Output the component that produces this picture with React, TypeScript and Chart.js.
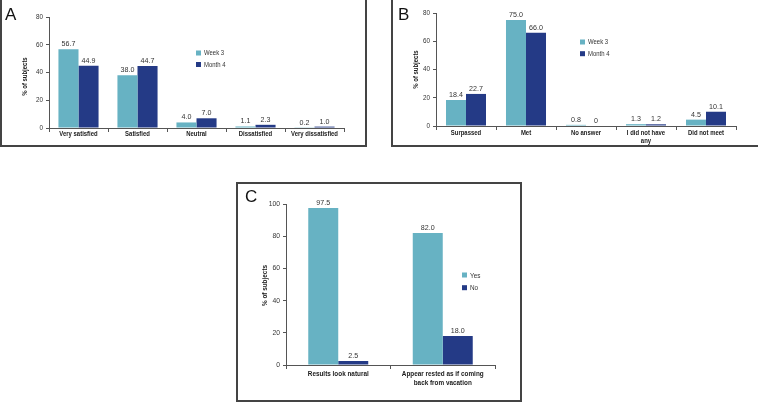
import React, { useEffect, useRef } from "react";
import { Chart, registerables } from "chart.js";

Chart.register(...registerables);

// ---------- data ----------
const satisfactionCategories = ["Very satisfied", "Satisfied", "Neutral", "Dissatisfied", "Very dissatisfied"];
const satisfactionWeek3 = [56.7, 38.0, 4.0, 1.1, 0.2];
const satisfactionMonth4 = [44.9, 44.7, 7.0, 2.3, 1.0];

const expectationCategories = ["Surpassed", "Met", "No answer", ["I did not have", "any"], "Did not meet"];
const expectationWeek3 = [18.4, 75.0, 0.8, 1.3, 4.5];
const expectationMonth4 = [22.7, 66.0, 0, 1.2, 10.1];

const outcomeCategories = ["Results look natural", ["Appear rested as if coming", "back from vacation"]];
const outcomeYes = [97.5, 82.0];
const outcomeNo = [2.5, 18.0];

const yTicks80 = [0, 20, 40, 60, 80];
const yTicks100 = [0, 20, 40, 60, 80, 100];
const yTitle = "% of subjects";

// ---------- styles ----------
const TEAL = "#67b2c3";
const NAVY = "#243a86";
const AXIS = "#555555";
const FONT = '"Liberation Sans", Arial, Helvetica, sans-serif';
const NARROW_SCALE = 0.85;

type PanelProps = {
  letter: string;
  box: { left: number; top: number; width: number; height: number };
  canvas: { left: number; top: number; width: number; height: number };
  letterPos: { left: number; top: number };
  categories: (string | string[])[];
  series: { label: string; data: number[]; color: string }[];
  yTicks: number[];
  padding: { left: number; right: number; top: number; bottom: number };
  yWidth: number;
  xHeight: number;
  catPct: number;
  fs: number;
  xLabelGap: number;
  xLineH: number;
  titleX: number;
  titleDy: number;
  legend: { x: number; y: number; gap: number; size: number };
};

function fmt(v: number) {
  return v === 0 ? "0" : v.toFixed(1);
}

function drawText(
  ctx: CanvasRenderingContext2D,
  text: string,
  x: number,
  y: number,
  sx: number,
  align: CanvasTextAlign,
  baseline: CanvasTextBaseline,
  rotate = 0
) {
  ctx.save();
  ctx.translate(x, y);
  if (rotate) ctx.rotate(rotate);
  ctx.scale(sx, 1);
  ctx.textAlign = align;
  ctx.textBaseline = baseline;
  ctx.fillText(text, 0, 0);
  ctx.restore();
}

function Panel(p: PanelProps) {
  const ref = useRef<HTMLCanvasElement | null>(null);
  useEffect(() => {
    if (!ref.current) return;
    const textPlugin = {
      id: "panelText",
      afterDraw(chart: any) {
        const ctx: CanvasRenderingContext2D = chart.ctx;
        const xs = chart.scales.x;
        const ys = chart.scales.y;
        const area = chart.chartArea;
        ctx.save();
        // value labels
        ctx.font = `7.5px ${FONT}`;
        ctx.fillStyle = "#333333";
        chart.data.datasets.forEach((ds: any, i: number) => {
          const meta = chart.getDatasetMeta(i);
          meta.data.forEach((bar: any, j: number) => {
            drawText(ctx, fmt(ds.data[j]), bar.x, bar.y - 3, 0.95, "center", "alphabetic");
          });
        });
        // x category labels
        ctx.font = `bold ${p.fs}px ${FONT}`;
        ctx.fillStyle = "#1a1a1a";
        p.categories.forEach((c, i) => {
          const lines = Array.isArray(c) ? c : [c];
          const x = xs.getPixelForTick(i);
          lines.forEach((ln, k) => {
            drawText(ctx, ln, x, xs.top + p.xLabelGap + k * p.xLineH, NARROW_SCALE, "center", "top");
          });
        });
        // y tick labels
        ctx.font = `${p.fs}px ${FONT}`;
        ctx.fillStyle = "#333333";
        p.yTicks.forEach((v) => {
          drawText(ctx, String(v), ys.right - 6, ys.getPixelForValue(v), 0.9, "right", "middle");
        });
        // y title
        ctx.font = `bold ${p.fs}px ${FONT}`;
        ctx.fillStyle = "#1a1a1a";
        drawText(ctx, yTitle, p.titleX, (area.top + area.bottom) / 2 + p.titleDy, NARROW_SCALE, "center", "middle", -Math.PI / 2);
        // legend
        ctx.font = `${p.fs}px ${FONT}`;
        chart.data.datasets.forEach((ds: any, i: number) => {
          const y = p.legend.y + i * p.legend.gap;
          ctx.fillStyle = ds.backgroundColor;
          ctx.fillRect(p.legend.x, y - p.legend.size / 2, p.legend.size, p.legend.size);
          ctx.fillStyle = "#333333";
          drawText(ctx, ds.label, p.legend.x + p.legend.size + 3, y + 0.5, NARROW_SCALE, "left", "middle");
        });
        ctx.restore();
      },
    };
    const chart = new Chart(ref.current, {
      type: "bar",
      data: {
        labels: p.categories as any,
        datasets: p.series.map((s) => ({
          label: s.label,
          data: s.data,
          backgroundColor: s.color,
          borderWidth: 0,
          categoryPercentage: p.catPct,
          barPercentage: 1,
        })),
      },
      options: {
        responsive: false,
        animation: false,
        devicePixelRatio: 1,
        layout: { padding: p.padding },
        plugins: { legend: { display: false }, tooltip: { enabled: false } },
        scales: {
          x: {
            grid: { display: true, drawOnChartArea: false, offset: true, tickLength: 4, color: AXIS },
            border: { color: AXIS },
            ticks: { display: false },
            afterFit: (s: any) => {
              s.height = p.xHeight;
            },
          },
          y: {
            min: p.yTicks[0],
            max: p.yTicks[p.yTicks.length - 1],
            ticks: { display: false, stepSize: p.yTicks[1] - p.yTicks[0] },
            grid: { display: true, drawOnChartArea: false, tickLength: 3, color: AXIS },
            border: { color: AXIS },
            afterFit: (s: any) => {
              s.width = p.yWidth;
            },
          },
        },
      } as any,
      plugins: [textPlugin],
    });
    return () => chart.destroy();
  }, []);
  return (
    <>
      <div
        style={{
          position: "absolute",
          left: p.box.left,
          top: p.box.top,
          width: p.box.width,
          height: p.box.height,
          border: "2px solid #444",
          boxSizing: "border-box",
        }}
      />
      <canvas
        ref={ref}
        width={p.canvas.width}
        height={p.canvas.height}
        style={{
          position: "absolute",
          left: p.canvas.left,
          top: p.canvas.top,
          width: p.canvas.width,
          height: p.canvas.height,
        }}
      />
      <div
        style={{
          position: "absolute",
          left: p.letterPos.left,
          top: p.letterPos.top,
          fontFamily: FONT,
          fontSize: 17,
          lineHeight: 1,
          color: "#111",
        }}
      >
        {p.letter}
      </div>
    </>
  );
}

export default function App() {
  return (
    <div style={{ position: "fixed", left: 0, top: 0, width: 758, height: 402, background: "#fff", overflow: "hidden" }}>
      <Panel
        letter="A"
        box={{ left: 0, top: -2, width: 367, height: 149 }}
        canvas={{ left: 0, top: 0, width: 366, height: 147 }}
        letterPos={{ left: 5, top: 6 }}
        categories={satisfactionCategories}
        series={[
          { label: "Week 3", data: satisfactionWeek3, color: TEAL },
          { label: "Month 4", data: satisfactionMonth4, color: NAVY },
        ]}
        yTicks={yTicks80}
        padding={{ left: 20, right: 22, top: 17, bottom: 0 }}
        yWidth={29}
        xHeight={19}
        catPct={0.68}
        fs={7}
        xLabelGap={3}
        xLineH={8}
        titleX={25}
        titleDy={4}
        legend={{ x: 196, y: 53, gap: 11.5, size: 5 }}
      />
      <Panel
        letter="B"
        box={{ left: 391, top: -2, width: 369, height: 149 }}
        canvas={{ left: 392, top: 0, width: 366, height: 147 }}
        letterPos={{ left: 398, top: 6 }}
        categories={expectationCategories}
        series={[
          { label: "Week 3", data: expectationWeek3, color: TEAL },
          { label: "Month 4", data: expectationMonth4, color: NAVY },
        ]}
        yTicks={yTicks80}
        padding={{ left: 19, right: 22, top: 13, bottom: 0 }}
        yWidth={25}
        xHeight={21}
        catPct={0.667}
        fs={7}
        xLabelGap={3.5}
        xLineH={8}
        titleX={24}
        titleDy={0}
        legend={{ x: 188, y: 42, gap: 11.7, size: 5 }}
      />
      <Panel
        letter="C"
        box={{ left: 236, top: 182, width: 286, height: 220 }}
        canvas={{ left: 237, top: 183, width: 284, height: 218 }}
        letterPos={{ left: 245, top: 188 }}
        categories={outcomeCategories}
        series={[
          { label: "Yes", data: outcomeYes, color: TEAL },
          { label: "No", data: outcomeNo, color: NAVY },
        ]}
        yTicks={yTicks100}
        padding={{ left: 23, right: 26, top: 21, bottom: 0 }}
        yWidth={26}
        xHeight={36}
        catPct={0.574}
        fs={7.5}
        xLabelGap={5}
        xLineH={9}
        titleX={28}
        titleDy={1}
        legend={{ x: 225, y: 92, gap: 12.7, size: 5 }}
      />
    </div>
  );
}
